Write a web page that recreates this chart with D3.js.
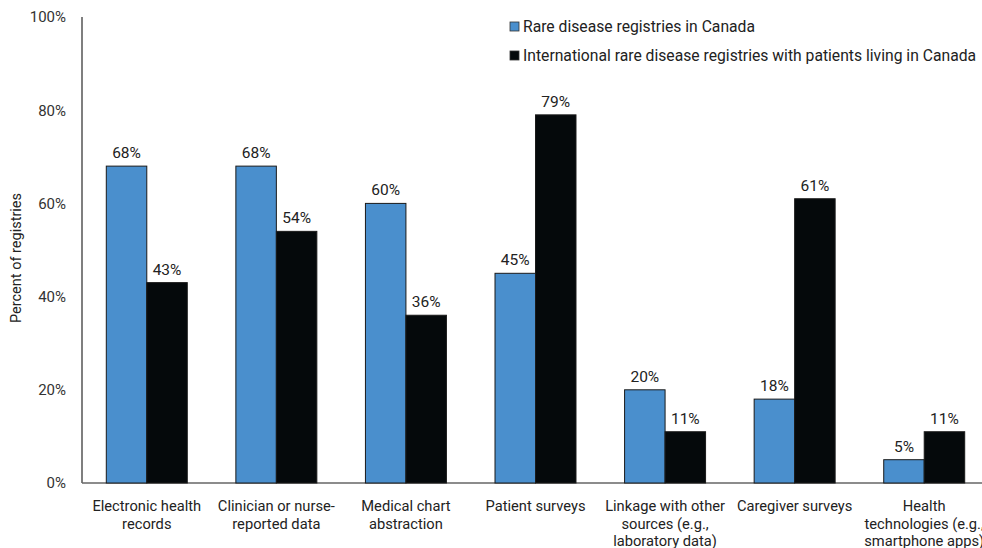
<!DOCTYPE html>
<html>
<head>
<meta charset="utf-8">
<script src="https://cdn.jsdelivr.net/npm/d3@7"></script>
<style>
  html, body { margin: 0; padding: 0; background: #fff; }
  svg { display: block; font-family: Roboto, "Noto Sans", sans-serif; }
</style>
</head>
<body>
<svg id="chart" width="982" height="548"></svg>
<script>
// Data sources used by registries (percent of registries)
const categories = [
  ["Electronic health", "records"],
  ["Clinician or nurse-", "reported data"],
  ["Medical chart", "abstraction"],
  ["Patient surveys"],
  ["Linkage with other", "sources (e.g.,", "laboratory data)"],
  ["Caregiver surveys"],
  ["Health", "technologies (e.g.,", "smartphone apps)"]
];
const seriesNames = [
  "Rare disease registries in Canada",
  "International rare disease registries with patients living in Canada"
];
const canadaValues = [68, 68, 60, 45, 20, 18, 5];
const internationalValues = [43, 54, 36, 79, 11, 61, 11];
const yTicks = [0, 20, 40, 60, 80, 100];
const colors = ["#4a8fcd", "#05090b"];

const svg = d3.select("#chart");
const plotLeft = 82, plotRight = 989, plotTop = 17, plotBottom = 483;

const x = d3.scaleBand()
  .domain(d3.range(categories.length))
  .range([plotLeft, plotRight])
  .paddingInner(0)
  .paddingOuter(0);

const inner = d3.scaleBand()
  .domain([0, 1])
  .range([0, x.bandwidth()])
  .paddingInner(0)
  .paddingOuter(0.6);

const y = d3.scaleLinear().domain([0, 100]).range([plotBottom, plotTop]);

// y tick labels
const yAxis = d3.axisLeft(y)
  .tickValues(yTicks)
  .tickSize(0)
  .tickPadding(16)
  .tickFormat(d => d + "%");
const gy = svg.append("g").attr("transform", `translate(${plotLeft},0)`).call(yAxis);
gy.select(".domain").remove();
gy.selectAll("text").attr("font-size", 15).attr("fill", "#333").attr("font-family", "Roboto, sans-serif");

// axis lines
svg.append("line").attr("x1", plotLeft).attr("x2", plotLeft).attr("y1", plotTop).attr("y2", plotBottom)
  .attr("stroke", "#555").attr("stroke-width", 1.5);
svg.append("line").attr("x1", plotLeft).attr("x2", 982).attr("y1", plotBottom).attr("y2", plotBottom)
  .attr("stroke", "#666").attr("stroke-width", 1.5);

// y axis title
svg.append("text")
  .attr("transform", `translate(21,${(plotTop + plotBottom) / 2 + 8}) rotate(-90)`)
  .attr("text-anchor", "middle")
  .attr("font-size", 14.5)
  .attr("fill", "#222")
  .text("Percent of registries");

const series = [canadaValues, internationalValues];
series.forEach((vals, si) => {
  const g = svg.append("g");
  g.selectAll("rect").data(vals).join("rect")
    .attr("x", (d, i) => x(i) + inner(si))
    .attr("y", d => y(d))
    .attr("width", inner.bandwidth())
    .attr("height", d => y(0) - y(d))
    .attr("fill", colors[si])
    .attr("stroke", "#1a1a1a")
    .attr("stroke-width", 1);
  g.selectAll("text").data(vals).join("text")
    .attr("x", (d, i) => x(i) + inner(si) + inner.bandwidth() / 2)
    .attr("y", d => y(d) - 8)
    .attr("text-anchor", "middle")
    .attr("font-size", 15.5)
    .attr("fill", "#222")
    .text(d => d + "%");
});

// category labels
const cat = svg.append("g");
categories.forEach((lines, i) => {
  const t = cat.append("text")
    .attr("x", x(i) + x.bandwidth() / 2)
    .attr("y", 511)
    .attr("text-anchor", "middle")
    .attr("font-size", 14.7)
    .attr("fill", "#222");
  lines.forEach((ln, j) => {
    t.append("tspan").attr("x", x(i) + x.bandwidth() / 2).attr("dy", j === 0 ? 0 : 17.5).text(ln);
  });
});

// legend
const legend = svg.append("g");
seriesNames.forEach((name, i) => {
  const ly = 26.5 + i * 29;
  legend.append("rect")
    .attr("x", 510).attr("y", ly - 4.5).attr("width", 9).attr("height", 9)
    .attr("fill", colors[i]).attr("stroke", "#333").attr("stroke-width", 0.8);
  legend.append("text")
    .attr("x", 523).attr("y", ly + 5.5)
    .attr("font-size", 15.7).attr("fill", "#222")
    .text(name);
});
</script>
</body>
</html>
